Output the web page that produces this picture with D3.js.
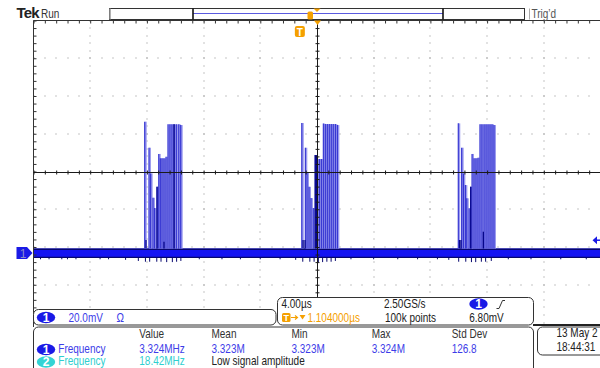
<!DOCTYPE html>
<html>
<head>
<meta charset="utf-8">
<script src="https://cdn.jsdelivr.net/npm/d3@7"></script>
<style>
  body { margin: 0; background: #fff; }
  svg { display: block; font-family: "Liberation Sans", Arial, sans-serif; }
</style>
</head>
<body>
<svg id="scope" width="600" height="368"></svg>
<script>
// ---- acquisition settings ----
const timePerDiv = 4.0;      // µs / div
const voltsPerDiv = 20.0;    // mV / div
const hDivs = 10;
const vDivs = 8;
const horizDelay = 1.104;    // µs, screen centre relative to trigger
const centerVolts = 43.2;    // mV at the screen centre (ch1 position)
const triggerLevel = 6.80;   // mV
const pulseWidth = 0.14;     // µs

// ---- ch1 trace: noise band around ground (mV) ----
const noiseBand = [-2.6, 2.4];

// ---- ch1 trace: three bursts, pulse times (µs from trigger) and peaks (mV) ----
const burst1Times = [-11.05, -10.75, -10.63, -10.47, -10.35, -10.18, -10.06, -9.95, -9.83, -9.69, -9.55, -9.41, -9.27, -9.13, -8.98, -8.82, -8.65, -8.51];
const burst1Peaks = [69.6, 55.8, 42.2, 29.3, 23.8, 35.1, 52.5, 50.2, 50.2, 50.2, 51.0, 68.2, 68.2, 68.2, 68.2, 68.2, 68.2, 67.8];
const burst2Times = [0.03, 0.28, 0.40, 0.54, 0.68, 0.84, 0.98, 1.13, 1.27, 1.41, 1.55, 1.69, 1.83, 1.97, 2.11, 2.25, 2.40, 2.54];
const burst2Peaks = [68.9, 55.8, 42.9, 35.1, 29.1, 23.8, 51.9, 49.8, 49.8, 49.8, 68.6, 68.3, 68.3, 68.3, 68.3, 68.3, 68.3, 67.8];
const burst3Times = [11.07, 11.31, 11.43, 11.57, 11.67, 11.83, 11.95, 12.04, 12.18, 12.32, 12.46, 12.60, 12.74, 12.89, 13.03, 13.17, 13.31, 13.45, 13.59];
const burst3Peaks = [68.7, 55.8, 42.2, 36.0, 29.0, 23.7, 35.1, 52.5, 50.2, 50.2, 50.5, 68.2, 68.2, 68.2, 68.2, 68.2, 68.2, 68.2, 67.8];

// intensified (frequently hit) trace segments
const brightTimes = [-10.96, -10.18, -9.69, -8.98, 0.12, 0.26, 0.98, 1.07, 11.16, 11.26, 11.95, 12.84];
const brightPeaks = [6.9, 35.1, 6.0, 68.2, 6.9, 6.9, 51.9, 51.9, 6.9, 6.9, 35.1, 11.3];

// downward glitches below the noise band
const glitchTimes = [-18.4, -17.8, -16.9, -16.5, -15.9, -14.2, -13.6, -12.4, -11.5, -11.0, -10.7, -10.2, -9.9, -9.5, -9.1, -8.8, -8.5, -7.2, -5.6, -4.3, -2.9, -1.5, -0.4, 0.1, 0.6, 0.9, 1.2, 1.5, 1.8, 2.1, 2.4, 3.5, 5.1, 6.8, 8.2, 9.6, 10.4, 11.1, 11.6, 12.0, 12.3, 12.7, 13.0, 13.4, 14.6, 16.2, 18.3, 20.1];
const glitchDepths = [-3.3, -3.3, -3.3, -3.3, -3.3, -3.3, -3.3, -3.6, -4.2, -4.6, -4.6, -4.6, -4.6, -4.8, -4.8, -4.6, -4.2, -3.3, -3.3, -3.3, -3.3, -3.3, -3.6, -4.6, -4.6, -4.6, -4.8, -4.8, -4.6, -4.6, -4.2, -3.3, -3.3, -3.3, -3.3, -3.3, -3.6, -4.6, -4.6, -4.8, -4.8, -4.6, -4.6, -4.2, -3.3, -3.3, -3.3, -3.3];

// ---- readouts ----
const ch1Scale = "20.0mV";
const timebaseText = "4.00µs";
const sampleRateText = "2.50GS/s";
const recordText = "100k points";
const delayText = "1.104000µs";
const trigLevelText = "6.80mV";
const measHeaders = ["Value", "Mean", "Min", "Max", "Std Dev"];
const ch1Meas = ["3.324MHz", "3.323M", "3.323M", "3.324M", "126.8"];
const ch2Meas = ["18.42MHz", "Low signal amplitude"];
const measName = "Frequency";
const dateText = ["13 May 2", "18:44:31"];

// ---- colours ----
const C = {
  grid: "#8a8a8a", frame: "#333", axis: "#1a1a1a",
  band: "#1414f2", bandEdge: "#06066e",
  pulseFill: "#9a9aee", pulseLine: "#2c2cd0", bright: "#05058a",
  ch1: "#1a1ae6", ch1Text: "#3d3de8", ch2: "#33d4d4", ch2Text: "#2fcfcf",
  orange: "#f5a000", text: "#333"
};

const svg = d3.select("#scope");
const plot = { left: 33.5, top: 20.5, width: 567, height: 302 };

// readout font: condensed sans
const FS = 12.5, SX = 0.8;
function label(g, px, py, str, fill, anchor) {
  return g.append("text")
    .attr("transform", `translate(${px},${py}) scale(${SX},1)`)
    .attr("font-size", FS).attr("fill", fill).attr("text-anchor", anchor || "start").text(str);
}

const x = d3.scaleLinear()
  .domain([horizDelay - hDivs / 2 * timePerDiv, horizDelay + hDivs / 2 * timePerDiv])
  .range([plot.left, plot.left + plot.width]);
const y = d3.scaleLinear()
  .domain([centerVolts - vDivs / 2 * voltsPerDiv, centerVolts + vDivs / 2 * voltsPerDiv])
  .range([plot.top + plot.height, plot.top]);

const tMin = x.domain()[0];
const vMin = y.domain()[0];
const tCenter = horizDelay, vCenter = centerVolts;
const minorT = d3.range(0, hDivs * 5 + 1).map(i => tMin + i * timePerDiv / 5);
const minorV = d3.range(0, vDivs * 5 + 1).map(i => vMin + i * voltsPerDiv / 5);
const majorT = d3.range(1, hDivs).map(i => tMin + i * timePerDiv).filter(t => Math.abs(t - tCenter) > 1e-6);
const majorV = d3.range(1, vDivs).map(i => vMin + i * voltsPerDiv).filter(v => Math.abs(v - vCenter) > 1e-6);

// ---- dotted graticule ----
const grid = svg.append("g");
majorT.forEach(t => {
  grid.selectAll(null).data(minorV).join("rect")
    .attr("x", Math.round(x(t)) - 0.5).attr("y", v => Math.round(y(v)) - 0.5)
    .attr("width", 1).attr("height", 1).attr("fill", C.grid);
});
majorV.forEach(v => {
  grid.selectAll(null).data(minorT).join("rect")
    .attr("x", t => Math.round(x(t)) - 0.5).attr("y", Math.round(y(v)) - 0.5)
    .attr("width", 1).attr("height", 1).attr("fill", C.grid);
});

// ---- ch1 trace ----
const trace = svg.append("g");
trace.append("rect")
  .attr("x", plot.left + 0.5).attr("width", plot.width)
  .attr("y", y(noiseBand[1])).attr("height", y(noiseBand[0]) - y(noiseBand[1]))
  .attr("fill", C.band);
trace.append("line")
  .attr("x1", plot.left + 0.5).attr("x2", plot.left + plot.width)
  .attr("y1", y(noiseBand[1]) + 0.8).attr("y2", y(noiseBand[1]) + 0.8)
  .attr("stroke", C.bandEdge).attr("stroke-width", 1.6);
trace.append("line")
  .attr("x1", plot.left + 0.5).attr("x2", plot.left + plot.width)
  .attr("y1", y(noiseBand[0]) - 0.6).attr("y2", y(noiseBand[0]) - 0.6)
  .attr("stroke", C.bandEdge).attr("stroke-width", 1.2);

trace.selectAll(".glitch").data(d3.zip(glitchTimes, glitchDepths)).join("line")
  .attr("class", "glitch")
  .attr("x1", d => x(d[0])).attr("x2", d => x(d[0]))
  .attr("y1", y(noiseBand[0])).attr("y2", d => y(d[1]))
  .attr("stroke", C.bandEdge).attr("stroke-width", 1);

const pulses = d3.zip(burst1Times, burst1Peaks)
  .concat(d3.zip(burst2Times, burst2Peaks))
  .concat(d3.zip(burst3Times, burst3Peaks));
const pw = x(pulseWidth) - x(0);
trace.selectAll(".pfill").data(pulses).join("rect")
  .attr("class", "pfill")
  .attr("x", d => x(d[0])).attr("width", pw)
  .attr("y", d => y(d[1])).attr("height", d => y(noiseBand[1]) - y(d[1]))
  .attr("fill", C.pulseFill);
trace.selectAll(".pline").data(pulses).join("line")
  .attr("class", "pline")
  .attr("x1", d => x(d[0])).attr("x2", d => x(d[0]))
  .attr("y1", y(noiseBand[1])).attr("y2", d => y(d[1]))
  .attr("stroke", C.pulseLine).attr("stroke-width", 1.1);
trace.selectAll(".bright").data(d3.zip(brightTimes, brightPeaks)).join("line")
  .attr("class", "bright")
  .attr("x1", d => x(d[0])).attr("x2", d => x(d[0]))
  .attr("y1", y(noiseBand[1])).attr("y2", d => y(d[1]))
  .attr("stroke", C.bright).attr("stroke-width", 1.3);

// ---- frame and centre cross, drawn with d3 axes ----
const noLabel = () => "";
function strip(g) { g.select(".domain").remove(); g.selectAll("text").remove(); }

svg.append("g").attr("transform", `translate(0,${plot.top})`)
  .call(d3.axisBottom(x).tickValues(minorT).tickSize(3).tickFormat(noLabel))
  .call(strip).selectAll("line").attr("stroke", C.frame);
svg.append("g").attr("transform", `translate(${plot.left},0)`)
  .call(d3.axisRight(y).tickValues(minorV).tickSize(3).tickFormat(noLabel))
  .call(strip).selectAll("line").attr("stroke", C.frame);
svg.append("g").attr("transform", `translate(0,${Math.round(y(vCenter)) + 0.5 - 2})`)
  .call(d3.axisBottom(x).tickValues(minorT).tickSize(4).tickFormat(noLabel))
  .call(strip).selectAll("line").attr("stroke", C.axis);
svg.append("g").attr("transform", `translate(${Math.round(x(tCenter)) + 0.5 - 2},0)`)
  .call(d3.axisRight(y).tickValues(minorV).tickSize(4).tickFormat(noLabel))
  .call(strip).selectAll("line").attr("stroke", C.axis);

svg.append("line").attr("x1", plot.left).attr("x2", plot.left + plot.width)
  .attr("y1", plot.top).attr("y2", plot.top).attr("stroke", C.frame);
svg.append("line").attr("x1", plot.left).attr("x2", plot.left)
  .attr("y1", plot.top).attr("y2", 327).attr("stroke", C.frame);
svg.append("line").attr("x1", plot.left).attr("x2", plot.left + plot.width)
  .attr("y1", Math.round(y(vCenter)) + 0.5).attr("y2", Math.round(y(vCenter)) + 0.5)
  .attr("stroke", C.axis);
svg.append("line").attr("x1", Math.round(x(tCenter)) + 0.5).attr("x2", Math.round(x(tCenter)) + 0.5)
  .attr("y1", plot.top).attr("y2", 297).attr("stroke", C.axis);

// ---- markers ----
const trigX = x(0);
const cx = Math.round(x(tCenter)) + 0.5;
// delay marker at top of graticule
svg.append("path").attr("d", `M${cx - 3.5},${plot.top} L${cx + 3.5},${plot.top} L${cx},${plot.top + 4.5}Z`).attr("fill", C.orange);
// trigger position marker
const tm = svg.append("g").attr("transform", `translate(${trigX - 1.5},31.5)`);
tm.append("rect").attr("x", -5).attr("y", -5.5).attr("width", 10).attr("height", 11).attr("rx", 2).attr("fill", C.orange);
tm.append("text").attr("y", 4).attr("text-anchor", "middle").attr("fill", "#fff")
  .attr("font-size", 10).attr("font-weight", "bold").text("T");
// ch1 ground marker
const gy = y(0);
svg.append("path").attr("d", `M16.5,${gy - 6} L27,${gy - 6} L32.5,${gy} L27,${gy + 6} L16.5,${gy + 6}Z`)
  .attr("fill", C.ch1);
svg.append("text").attr("x", 23).attr("y", gy + 4.5).attr("text-anchor", "middle")
  .attr("font-size", 12).attr("fill", "#8c8cc8").text("1");
// trigger level marker
const ty = y(triggerLevel);
svg.append("path").attr("d", `M592.5,${ty} L597,${ty - 4} L597,${ty + 4}Z`).attr("fill", C.ch1);
svg.append("line").attr("x1", 596).attr("x2", 600).attr("y1", ty).attr("y2", ty).attr("stroke", C.ch1).attr("stroke-width", 1.5);

// ---- header ----
svg.append("text").attr("x", 16.5).attr("y", 17.5)
  .attr("font-weight", "bold").attr("font-size", 15).attr("fill", "#222").attr("letter-spacing", -0.8).text("Tek");
label(svg, 41, 17.5, "Run", "#333");
svg.append("rect").attr("x", 109.5).attr("y", 8.5).attr("width", 415).attr("height", 11)
  .attr("fill", "#fff").attr("stroke", "#333");
svg.append("line").attr("x1", 110).attr("x2", 110).attr("y1", 8.5).attr("y2", 19.5).attr("stroke", "#999").attr("stroke-width", 1.5);
svg.append("line").attr("x1", 193).attr("x2", 443).attr("y1", 13.5).attr("y2", 13.5).attr("stroke", "#5a5ae0");
[193, 443].forEach(bx => svg.append("line").attr("x1", bx).attr("x2", bx).attr("y1", 8.5).attr("y2", 19.5)
  .attr("stroke", "#111").attr("stroke-width", 1.6));
svg.append("rect").attr("x", 307.5).attr("y", 11.5).attr("width", 5.5).attr("height", 8).attr("rx", 1.5).attr("fill", C.orange);
svg.append("path").attr("d", "M313.5,8.5 L320.5,8.5 L317,12Z").attr("fill", C.orange);
svg.append("line").attr("x1", 529.5).attr("x2", 529.5).attr("y1", 8.5).attr("y2", 19.5).attr("stroke", "#aaa");
label(svg, 531.5, 17.5, "Trig’d", "#555");

// ---- readout panels ----
function badge(g, bx, by, txt, fill) {
  g.append("ellipse").attr("cx", bx).attr("cy", by).attr("rx", 9.2).attr("ry", 5.8).attr("fill", fill);
  g.append("text").attr("x", bx).attr("y", by + 4.3).attr("text-anchor", "middle")
    .attr("font-size", 12).attr("font-weight", "bold").attr("fill", "#fff").text(txt);
}
const panels = svg.append("g");
// measurements
panels.append("rect").attr("x", 33.5).attr("y", 327).attr("width", 500).attr("height", 60).attr("rx", 5)
  .attr("fill", "#fff").attr("stroke", C.frame);
// channel scale
panels.append("rect").attr("x", 33.5).attr("y", 309.5).attr("width", 242.5).attr("height", 15.5).attr("rx", 5)
  .attr("fill", "#fff").attr("stroke", C.frame);
// timebase / trigger
panels.append("rect").attr("x", 277.5).attr("y", 297.5).attr("width", 256).attr("height", 27.5).attr("rx", 5)
  .attr("fill", "#fff").attr("stroke", C.frame);
// date
panels.append("rect").attr("x", 537.5).attr("y", 327).attr("width", 70).attr("height", 28).attr("rx", 5)
  .attr("fill", "#fff").attr("stroke", C.frame);
panels.append("line").attr("x1", 533).attr("x2", 600).attr("y1", 325).attr("y2", 325).attr("stroke", "#222").attr("stroke-width", 2);

badge(panels, 46, 317.5, "1", C.ch1);
label(panels, 68.5, 321.5, ch1Scale, C.ch1Text);
label(panels, 116.5, 321.5, "Ω", C.ch1Text);

const rowA = 308.3, rowB = 321.7;
label(panels, 281.5, rowA, timebaseText, "#222");
label(panels, 384, rowA, sampleRateText, "#222");
badge(panels, 478.5, 304, "1", C.ch1);
panels.append("path").attr("d", "M496.5,308.5 L499,308.5 L502.5,300.5 L505,300.5").attr("fill", "none").attr("stroke", "#333");
panels.append("rect").attr("x", 282).attr("y", 313).attr("width", 8.5).attr("height", 9).attr("rx", 1.5).attr("fill", C.orange);
panels.append("text").attr("x", 286.2).attr("y", 321).attr("text-anchor", "middle").attr("font-size", 9)
  .attr("font-weight", "bold").attr("fill", "#fff").text("T");
panels.append("path").attr("d", "M291,317.5 L297,317.5 M295,315.5 L297.5,317.5 L295,319.5").attr("fill", "none").attr("stroke", C.orange).attr("stroke-width", 1.2);
panels.append("path").attr("d", "M299.5,315 L305.5,315 L302.5,319.5Z").attr("fill", C.orange);
label(panels, 307.5, rowB, delayText, C.orange);
label(panels, 385, rowB, recordText, "#222");
label(panels, 469.3, rowB, trigLevelText, "#222");

const colX = [139.3, 211.5, 291.5, 371.7, 451.7];
measHeaders.forEach((d, i) => label(panels, colX[i], 338.3, d, C.text));
badge(panels, 46, 349.5, "1", C.ch1);
label(panels, 58.3, 352.7, measName, C.ch1Text);
ch1Meas.forEach((d, i) => label(panels, colX[i], 352.7, d, C.ch1Text));
badge(panels, 46, 362, "2", C.ch2);
label(panels, 58.3, 365, measName, C.ch2Text);
label(panels, colX[0], 365, ch2Meas[0], C.ch2Text);
label(panels, colX[1], 365, ch2Meas[1], "#222");

label(panels, 556.5, 337.3, dateText[0], "#222");
label(panels, 556.5, 351, dateText[1], "#222");
</script>
</body>
</html>
